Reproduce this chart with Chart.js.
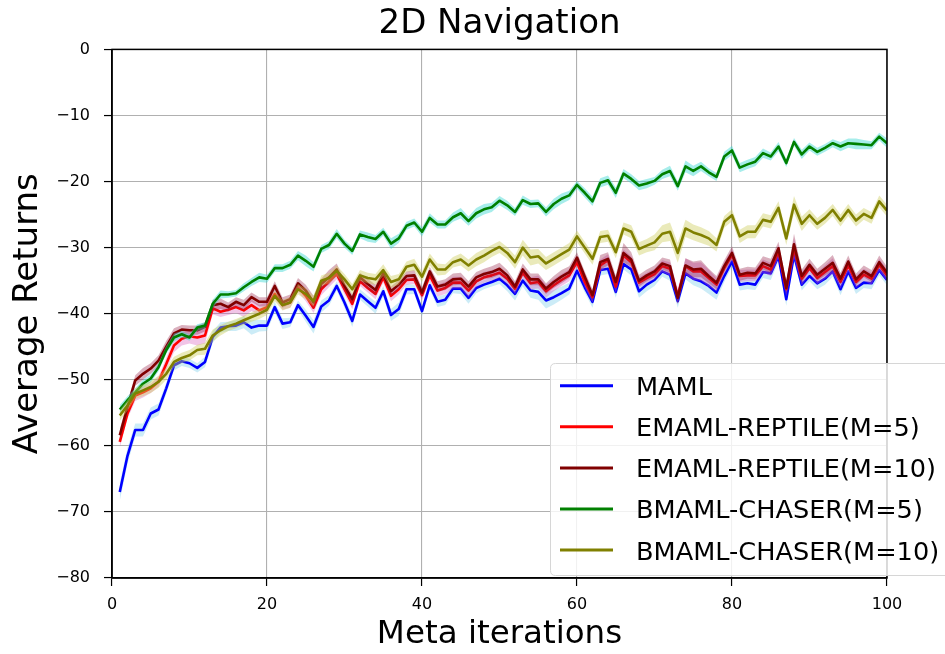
<!DOCTYPE html>
<html>
<head>
<meta charset="utf-8">
<script src="https://cdn.jsdelivr.net/npm/chart.js@4.4.1/dist/chart.umd.min.js"></script>
<style>
  html, body { margin: 0; padding: 0; background: #ffffff; }
  #wrap { width: 945px; height: 654px; position: relative; }
</style>
</head>
<body>
<div id="wrap"><canvas id="c" width="945" height="654"></canvas></div>
<script>
// Meta-training iteration index
const iterations = [
  1,2,3,4,5,6,7,8,9,10,11,12,13,14,15,16,17,18,19,20,
  21,22,23,24,25,26,27,28,29,30,31,32,33,34,35,36,37,38,39,40,
  41,42,43,44,45,46,47,48,49,50,51,52,53,54,55,56,57,58,59,60,
  61,62,63,64,65,66,67,68,69,70,71,72,73,74,75,76,77,78,79,80,
  81,82,83,84,85,86,87,88,89,90,91,92,93,94,95,96,97,98,99,100
];

// Average returns (mean over runs)
const mamlReturns = [
  -67.0,-61.5,-57.6,-57.6,-55.1,-54.5,-51.3,-47.8,-47.2,-47.5,
  -48.2,-47.3,-43.5,-42.1,-41.9,-41.8,-41.3,-42.1,-41.8,-41.8,
  -39.0,-41.5,-41.3,-38.7,-40.3,-42.0,-38.9,-38.0,-35.8,-38.3,
  -41.1,-37.1,-38.1,-39.1,-36.6,-40.2,-39.3,-36.3,-36.3,-39.6,
  -35.7,-38.2,-37.9,-36.2,-36.2,-37.6,-36.1,-35.6,-35.2,-34.7,
  -35.7,-37.0,-35.0,-36.5,-36.7,-38.0,-37.5,-36.9,-36.2,-33.5,
  -36.0,-38.2,-33.4,-33.2,-36.7,-32.5,-33.3,-36.6,-35.6,-34.9,
  -33.6,-34.1,-38.1,-33.9,-34.7,-35.1,-35.8,-36.8,-34.3,-32.1,
  -35.6,-35.4,-35.6,-33.7,-33.9,-31.3,-37.8,-31.1,-35.6,-34.3,
  -35.4,-34.7,-33.6,-36.3,-33.6,-36.1,-35.3,-35.4,-33.4,-34.9
];
const emamlM5Returns = [
  -59.4,-55.1,-52.4,-51.9,-51.3,-50.3,-47.6,-44.8,-43.8,-43.4,
  -43.6,-43.3,-39.2,-39.7,-39.4,-39.0,-39.5,-38.7,-39.5,-39.0,
  -37.0,-38.7,-38.3,-36.0,-37.3,-39.1,-36.3,-35.1,-34.0,-36.3,
  -38.5,-35.1,-36.1,-37.0,-34.5,-37.3,-36.3,-34.9,-34.8,-37.2,
  -34.2,-36.5,-36.1,-35.3,-35.3,-36.5,-35.1,-34.5,-34.2,-33.8,
  -34.7,-36.2,-33.8,-35.4,-35.2,-36.6,-35.7,-34.9,-34.2,-32.2,
  -35.2,-37.5,-32.7,-31.9,-35.9,-31.2,-32.2,-35.3,-34.6,-34.0,
  -32.8,-33.2,-37.3,-32.8,-33.6,-33.6,-34.6,-35.6,-33.1,-31.1,
  -34.3,-34.2,-34.2,-32.8,-33.3,-30.6,-36.3,-30.1,-34.7,-33.1,
  -34.6,-33.7,-32.8,-35.2,-32.7,-35.2,-34.1,-34.7,-32.6,-34.2
];
const emamlM10Returns = [
  -58.4,-54.1,-50.1,-49.1,-48.3,-47.1,-45.0,-43.0,-42.4,-42.5,
  -42.5,-42.0,-38.7,-38.5,-39.0,-38.2,-38.7,-37.5,-38.2,-38.2,
  -35.8,-38.3,-37.8,-35.4,-36.5,-38.3,-35.5,-34.5,-33.3,-35.8,
  -37.8,-34.5,-35.5,-36.4,-33.9,-36.6,-35.6,-34.3,-34.2,-36.8,
  -33.6,-35.9,-35.6,-34.8,-34.7,-35.9,-34.5,-34.0,-33.7,-33.2,
  -34.2,-35.9,-33.3,-34.8,-34.8,-36.2,-35.2,-34.4,-33.7,-31.5,
  -34.4,-37.2,-32.2,-31.7,-35.2,-30.8,-31.8,-35.0,-34.2,-33.6,
  -32.4,-32.8,-37.6,-32.7,-33.3,-33.2,-34.3,-35.3,-32.8,-30.8,
  -34.1,-33.8,-33.9,-32.3,-32.8,-30.1,-36.1,-29.5,-34.3,-32.6,
  -34.1,-33.2,-32.3,-34.7,-32.1,-34.8,-33.6,-34.3,-32.2,-33.8
];
const chaserM5Returns = [
  -54.5,-53.1,-51.9,-50.6,-49.8,-48.1,-45.5,-43.6,-43.1,-43.6,
  -42.1,-41.8,-38.5,-37.1,-37.1,-36.9,-36.0,-35.2,-34.5,-34.7,
  -33.1,-33.1,-32.6,-31.2,-32.0,-32.9,-30.2,-29.6,-27.9,-29.4,
  -30.5,-28.0,-28.4,-28.7,-27.6,-29.4,-28.6,-26.7,-26.2,-27.6,
  -25.5,-26.5,-26.5,-25.4,-24.8,-26.0,-24.8,-24.2,-23.9,-22.9,
  -23.6,-24.6,-22.8,-23.4,-23.3,-24.6,-23.4,-22.6,-22.1,-20.5,
  -21.7,-23.0,-20.2,-19.8,-21.7,-18.8,-19.6,-20.6,-20.3,-19.9,
  -18.9,-18.4,-20.7,-17.7,-18.4,-17.7,-18.6,-19.3,-16.2,-15.3,
  -17.9,-17.4,-17.0,-15.7,-16.2,-14.7,-17.2,-14.0,-15.9,-14.7,
  -15.5,-14.9,-14.2,-14.7,-14.2,-14.3,-14.4,-14.5,-13.2,-14.2
];
const chaserM10Returns = [
  -55.4,-53.9,-52.1,-51.6,-51.1,-50.3,-49.1,-47.3,-46.7,-46.3,
  -45.5,-45.3,-43.3,-42.5,-41.9,-41.5,-41.0,-40.5,-40.0,-39.4,
  -37.3,-38.7,-38.3,-36.3,-37.0,-38.1,-35.0,-34.6,-33.5,-34.8,
  -36.3,-34.2,-34.6,-34.8,-33.4,-35.2,-34.8,-32.9,-32.6,-34.4,
  -31.8,-33.3,-33.3,-32.2,-31.8,-32.7,-31.8,-31.2,-30.5,-29.9,
  -30.8,-32.2,-30.0,-31.5,-31.3,-32.4,-31.7,-31.0,-30.3,-28.3,
  -30.0,-31.7,-28.4,-28.2,-30.7,-27.1,-27.6,-30.2,-29.7,-29.2,
  -27.9,-27.6,-30.8,-27.1,-27.7,-28.1,-28.6,-29.6,-26.1,-25.1,
  -28.3,-27.6,-27.6,-25.8,-26.1,-24.0,-28.6,-23.5,-26.4,-25.1,
  -26.4,-25.5,-24.3,-25.9,-24.3,-25.9,-24.9,-25.5,-23.0,-24.4
];

// Spread (half width of the shaded band) around each mean
const mamlSpread = [
  1.3,1.2,1.0,1.0,0.9,0.9,0.8,0.8,0.7,0.7,
  0.7,0.8,0.9,0.8,0.7,0.8,0.9,1.1,0.9,0.8,
  0.8,0.8,0.7,0.7,0.9,1.0,0.9,0.8,0.7,0.8,
  0.9,0.8,0.8,0.9,0.8,0.9,1.0,0.8,0.7,0.8,
  0.7,0.8,0.8,0.7,0.8,0.9,0.8,0.7,0.7,0.8,
  0.9,1.0,0.9,1.1,1.2,1.2,1.1,1.0,0.9,0.8,
  0.8,0.9,0.8,0.8,0.9,0.8,0.9,1.0,1.0,0.9,
  0.8,0.9,1.0,0.9,1.0,1.1,1.2,1.1,0.9,0.8,
  0.9,0.9,0.8,0.9,1.0,0.8,1.0,0.9,0.9,0.8,
  0.9,0.9,0.8,0.9,0.8,0.9,0.8,0.9,0.8,0.8
];
const emamlM5Spread = [
  0.9,0.8,0.8,0.8,0.7,0.8,0.9,1.0,1.0,1.1,
  1.2,1.2,0.9,0.8,0.8,0.9,1.0,0.9,0.8,0.8,
  0.7,0.7,0.8,0.7,0.8,0.8,0.9,0.9,0.8,0.8,
  0.8,0.7,0.7,0.8,0.8,0.8,0.8,0.7,0.7,0.8,
  0.8,0.9,0.9,0.9,0.9,1.0,0.9,0.8,0.8,0.8,
  0.8,0.8,0.8,0.9,1.0,1.0,0.9,0.9,0.9,0.8,
  0.8,0.8,0.9,0.9,1.0,0.9,0.9,0.8,0.8,0.8,
  0.9,1.0,1.1,1.2,1.3,1.4,1.3,1.0,0.9,0.9,
  0.9,0.9,0.9,1.0,1.0,1.0,1.1,1.5,1.0,0.9,
  0.9,1.0,1.2,1.0,0.9,0.9,0.9,0.9,0.9,0.9
];
const emamlM10Spread = [
  0.9,0.8,0.8,0.9,0.8,0.8,0.9,0.8,0.7,0.7,
  0.7,0.7,0.8,0.8,0.7,0.7,0.8,0.7,0.7,0.7,
  0.7,0.8,0.7,0.8,0.9,1.0,0.8,1.1,0.9,0.8,
  0.7,0.7,0.8,0.8,0.7,0.7,0.7,0.7,0.8,0.8,
  0.7,0.8,0.8,0.9,0.9,0.8,0.8,0.8,0.9,0.9,
  0.8,0.8,0.9,0.9,0.9,0.8,0.9,1.0,0.9,0.8,
  0.8,0.9,1.1,1.0,1.0,1.5,1.1,0.9,0.9,0.9,
  0.9,1.0,1.0,1.1,1.2,1.3,1.1,1.0,0.9,1.0,
  0.9,0.9,0.9,1.0,1.1,1.0,1.0,1.6,1.0,0.9,
  0.9,1.0,1.2,0.9,0.9,0.9,0.9,0.9,1.0,0.9
];
const chaserM5Spread = [
  0.7,0.6,0.6,0.6,0.6,0.6,0.6,0.6,0.5,0.5,
  0.5,0.5,0.6,0.6,0.5,0.5,0.6,0.6,0.7,0.6,
  0.6,0.6,0.6,0.7,0.8,0.7,0.6,0.6,0.7,0.6,
  0.6,0.6,0.7,0.6,0.6,0.8,0.7,0.6,0.6,0.7,
  0.7,0.6,0.6,0.7,0.8,0.7,0.8,0.8,0.7,0.7,
  0.7,0.6,0.7,0.6,0.6,0.7,0.8,0.8,0.7,0.6,
  0.7,0.7,0.7,0.7,0.8,0.7,0.7,0.7,0.7,0.6,
  0.7,0.8,0.7,0.9,0.8,0.7,0.6,0.6,0.7,0.7,
  0.7,0.7,0.7,0.7,0.6,0.7,0.6,0.6,0.7,0.6,
  0.6,0.6,0.6,0.7,0.7,0.8,0.7,0.6,0.6,0.7
];
const chaserM10Spread = [
  0.8,0.8,0.8,0.9,0.9,0.9,0.9,0.8,0.8,0.8,
  0.8,0.9,0.9,0.8,0.7,0.7,0.7,0.7,0.8,0.8,
  0.8,0.8,0.8,0.8,0.8,0.8,0.8,0.8,0.8,0.8,
  0.8,0.8,0.8,0.8,0.9,0.9,0.8,0.8,0.9,0.8,
  0.9,0.9,0.8,0.8,0.9,0.9,1.0,1.0,0.9,0.9,
  0.9,1.0,1.2,1.2,1.1,1.0,1.0,1.0,1.0,0.9,
  0.9,0.9,0.9,0.9,0.9,0.9,1.0,1.0,1.0,1.2,
  1.3,1.4,1.5,1.3,1.2,1.2,1.1,1.0,0.9,0.9,
  1.0,1.0,1.0,1.0,1.0,1.0,1.0,1.3,1.1,0.9,
  0.9,0.9,0.9,0.9,0.9,0.9,0.9,0.9,0.9,0.9
];

// Axis ticks
const xTickValues = [0, 20, 40, 60, 80, 100];
const yTickValues = [0, -10, -20, -30, -40, -50, -60, -70, -80];

const seriesList = [
  { label: 'MAML', mean: mamlReturns, spread: mamlSpread,
    line: '#0000ff', band: 'rgba(120, 205, 235, 0.38)' },
  { label: 'EMAML-REPTILE(M=5)', mean: emamlM5Returns, spread: emamlM5Spread,
    line: '#ff0000', band: 'rgba(215, 90, 185, 0.35)' },
  { label: 'EMAML-REPTILE(M=10)', mean: emamlM10Returns, spread: emamlM10Spread,
    line: '#800000', band: 'rgba(150, 30, 70, 0.35)' },
  { label: 'BMAML-CHASER(M=5)', mean: chaserM5Returns, spread: chaserM5Spread,
    line: '#008000', band: 'rgba(60, 215, 210, 0.45)' },
  { label: 'BMAML-CHASER(M=10)', mean: chaserM10Returns, spread: chaserM10Spread,
    line: '#808000', band: 'rgba(205, 205, 90, 0.42)' }
];

const FONT = 'DejaVu Sans';
Chart.defaults.font.family = FONT;
Chart.defaults.color = '#000000';

const datasets = [];
seriesList.forEach((s, k) => {
  const upper = iterations.map((x, i) => ({ x, y: s.mean[i] + s.spread[i] }));
  const lower = iterations.map((x, i) => ({ x, y: s.mean[i] - s.spread[i] }));
  const line = iterations.map((x, i) => ({ x, y: s.mean[i] }));
  datasets.push({
    label: s.label + ' band', data: upper, isBand: true,
    borderWidth: 0, pointRadius: 0, backgroundColor: s.band,
    fill: '+1', order: -2 * k
  });
  datasets.push({
    label: s.label + ' band low', data: lower, isBand: true,
    borderWidth: 0, pointRadius: 0, fill: false, order: -2 * k
  });
  datasets.push({
    label: s.label, data: line, isBand: false,
    borderColor: s.line, borderWidth: 2.6, pointRadius: 0,
    borderJoinStyle: 'round', fill: false, tension: 0, order: -2 * k - 1
  });
});

const fmtTick = v => (v < 0 ? '\u2212' + Math.abs(v) : String(v));

// Full box around the plotting area
const frame = {
  id: 'frame',
  afterDatasetsDraw(chart) {
    const { ctx, chartArea: a } = chart;
    ctx.save();
    ctx.strokeStyle = '#000000';
    ctx.lineWidth = 1.5;
    ctx.strokeRect(a.left, a.top, a.right - a.left, a.bottom - a.top);
    ctx.restore();
  }
};

// Legend box in the lower right of the axes
const legendBox = {
  id: 'legendBox',
  afterDraw(chart) {
    const ctx = chart.ctx;
    const entries = chart.data.datasets.filter(d => !d.isBand);
    ctx.save();
    const bx = 550.5, by = 363.5, bw = 430, bh = 212, r = 5;
    ctx.beginPath();
    ctx.moveTo(bx + r, by);
    ctx.lineTo(bx + bw - r, by);
    ctx.quadraticCurveTo(bx + bw, by, bx + bw, by + r);
    ctx.lineTo(bx + bw, by + bh - r);
    ctx.quadraticCurveTo(bx + bw, by + bh, bx + bw - r, by + bh);
    ctx.lineTo(bx + r, by + bh);
    ctx.quadraticCurveTo(bx, by + bh, bx, by + bh - r);
    ctx.lineTo(bx, by + r);
    ctx.quadraticCurveTo(bx, by, bx + r, by);
    ctx.closePath();
    ctx.fillStyle = 'rgba(255,255,255,0.82)';
    ctx.fill();
    ctx.strokeStyle = '#d6d6d6';
    ctx.lineWidth = 1;
    ctx.stroke();
    ctx.font = '25.6px "' + FONT + '"';
    ctx.textAlign = 'left';
    ctx.textBaseline = 'alphabetic';
    entries.forEach((d, i) => {
      const y = 385.7 + i * 41.1;
      ctx.strokeStyle = d.borderColor;
      ctx.lineWidth = 3;
      ctx.beginPath();
      ctx.moveTo(560, y);
      ctx.lineTo(613, y);
      ctx.stroke();
      ctx.fillStyle = '#000000';
      ctx.fillText(d.label, 636, y + 9.4);
    });
    ctx.restore();
  }
};

new Chart(document.getElementById('c'), {
  type: 'line',
  data: { datasets },
  plugins: [frame, legendBox],
  options: {
    responsive: false,
    animation: false,
    devicePixelRatio: 1,
    layout: { padding: { left: 0, right: 58, top: 0, bottom: 0 } },
    plugins: {
      legend: { display: false },
      tooltip: { enabled: false },
      filler: { propagate: false },
      title: {
        display: true,
        fullSize: false,
        text: '2D Navigation',
        color: '#000000',
        font: { family: FONT, size: 34, weight: 'normal' },
        padding: { top: 4, bottom: 4.6 }
      }
    },
    scales: {
      x: {
        type: 'linear',
        min: 0, max: 100,
        afterFit: s => { s.height = 76; },
        afterBuildTicks: s => { s.ticks = xTickValues.map(v => ({ value: v })); },
        ticks: {
          color: '#000000', font: { family: FONT, size: 16 },
          padding: 9, maxRotation: 0, autoSkip: false, callback: fmtTick
        },
        grid: { color: '#b0b0b0', lineWidth: 1.1, tickLength: 8, tickColor: '#000000', tickWidth: 1.2 },
        border: { display: true, color: '#000000', width: 1.5 },
        title: {
          display: true, text: 'Meta iterations', color: '#000000',
          font: { family: FONT, size: 32.5, weight: 'normal' },
          padding: { top: 0, bottom: 0 }
        }
      },
      y: {
        type: 'linear',
        min: -80, max: 0,
        afterFit: s => { s.width = 112; },
        afterBuildTicks: s => { s.ticks = yTickValues.map(v => ({ value: v })); },
        ticks: {
          color: '#000000', font: { family: FONT, size: 16 },
          padding: 14, autoSkip: false, callback: fmtTick
        },
        grid: { color: '#b0b0b0', lineWidth: 1.1, tickLength: 8, tickColor: '#000000', tickWidth: 1.2 },
        border: { display: true, color: '#000000', width: 1.5 },
        title: {
          display: true, text: 'Average Returns', color: '#000000',
          font: { family: FONT, size: 34, weight: 'normal' },
          padding: { top: 7.4, bottom: 0 }
        }
      }
    }
  }
});
</script>
</body>
</html>
